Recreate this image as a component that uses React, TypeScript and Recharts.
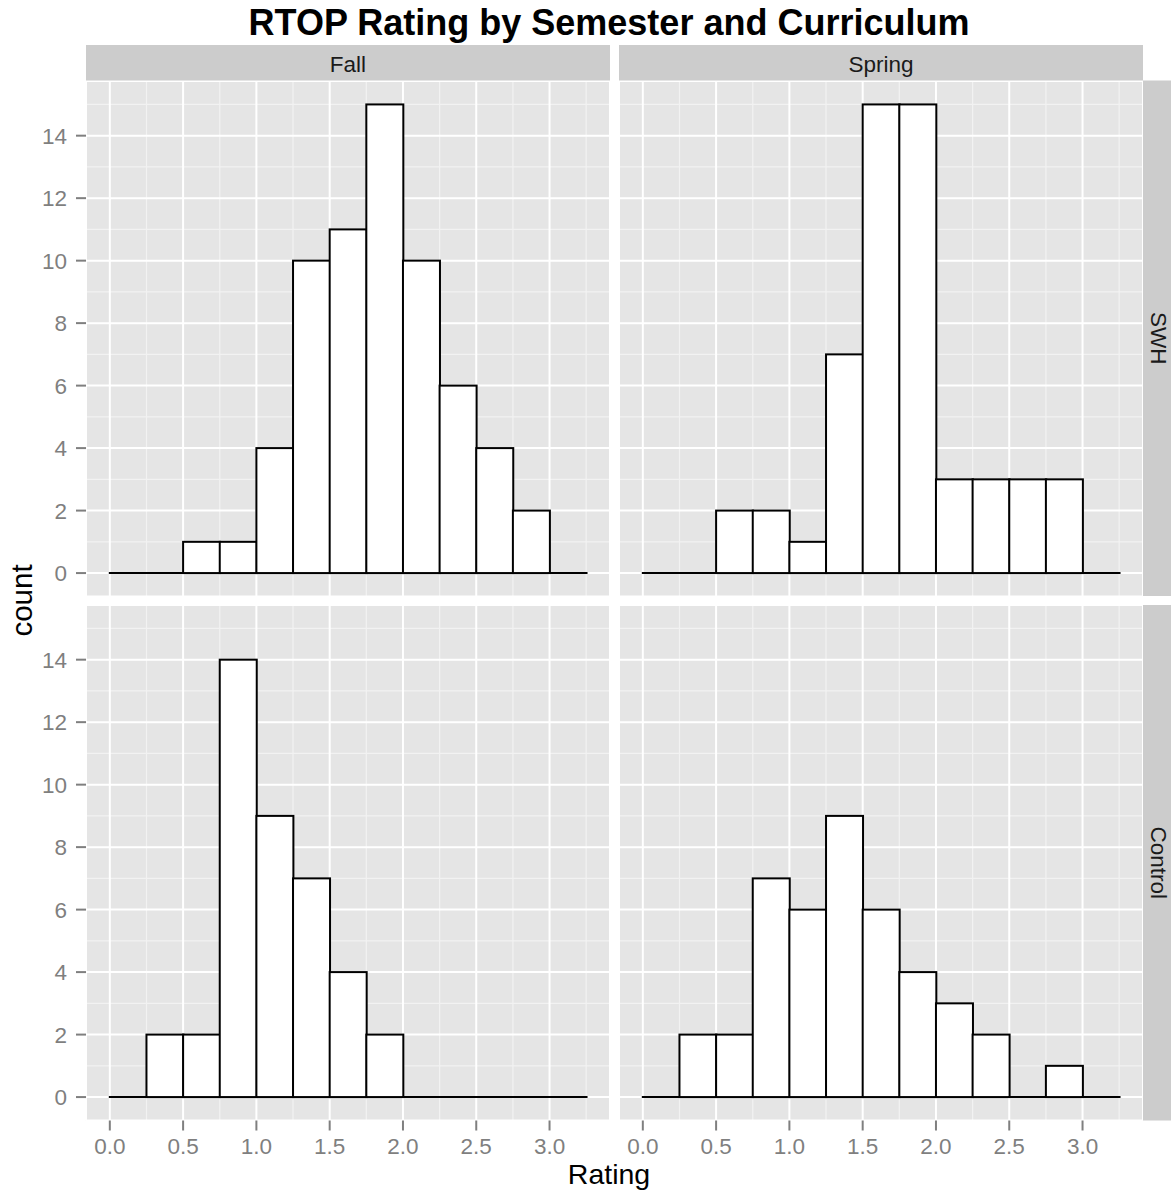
import React from 'react';
import { ComposedChart, Bar, XAxis, YAxis, CartesianGrid } from 'recharts';

// ---- data ----
const binLabels = ['0.00-0.25', '0.25-0.50', '0.50-0.75', '0.75-1.00', '1.00-1.25', '1.25-1.50', '1.50-1.75', '1.75-2.00', '2.00-2.25', '2.25-2.50', '2.50-2.75', '2.75-3.00', '3.00-3.25'];
const binMids = [0.125, 0.375, 0.625, 0.875, 1.125, 1.375, 1.625, 1.875, 2.125, 2.375, 2.625, 2.875, 3.125];
const fallSWH = [0, 0, 1, 1, 4, 10, 11, 15, 10, 6, 4, 2, 0];
const springSWH = [0, 0, 2, 2, 1, 7, 15, 15, 3, 3, 3, 3, 0];
const fallControl = [0, 2, 2, 14, 9, 7, 4, 2, 0, 0, 0, 0, 0];
const springControl = [0, 2, 2, 7, 6, 9, 6, 4, 3, 2, 0, 1, 0];
const xMajorTicks = [0, 0.5, 1, 1.5, 2, 2.5, 3];
const xMinorTicks = [0.25, 0.75, 1.25, 1.75, 2.25, 2.75, 3.25];
const yMajorTicks = [0, 2, 4, 6, 8, 10, 12, 14];
const yMinorTicks = [1, 3, 5, 7, 9, 11, 13, 15];
const columns = ['Fall', 'Spring'];
const rows = ['SWH', 'Control'];
const title = 'RTOP Rating by Semester and Curriculum';
const xTitle = 'Rating';
const yTitle = 'count';

// ---- layout ----
const X_MIN = 0;
const X_MAX = 3.25;
const X_EXP = (X_MAX - X_MIN) * 0.05;
const X_DOMAIN: [number, number] = [X_MIN - X_EXP, X_MAX + X_EXP];
const Y_DOMAIN: [number, number] = [-0.75, 15.75];
const PW = 524;
const PH = 515.5;
const PAD = (X_EXP / (X_DOMAIN[1] - X_DOMAIN[0])) * PW;
const COL_X = [86, 619];
const ROW_Y = [80.5, 605];
const Y_AXIS_W = 86;
const X_AXIS_H = 50;
const FONT = '"Liberation Sans", Arial, Helvetica, sans-serif';
const TICK_COLOR = '#7F7F7F';

const HistShape = (p: any) => {
  const { x, y, width, height } = p;
  if (!height) {
    return <line x1={x} x2={x + width} y1={y} y2={y} stroke="#000" strokeWidth={2} strokeLinecap="square" />;
  }
  return <rect x={x} y={y} width={width} height={height} fill="#FFFFFF" stroke="#000" strokeWidth={2} />;
};

type PanelProps = { values: number[]; left: number; top: number; showX: boolean; showY: boolean };

function Panel({ values, left, top, showX, showY }: PanelProps) {
  const data = binLabels.map((b, i) => ({ bin: b, mid: binMids[i], count: values[i] }));
  const yw = showY ? Y_AXIS_W : 0;
  const xh = showX ? X_AXIS_H : 0;
  return (
    <div style={{ position: 'absolute', left: left - yw, top }}>
      <ComposedChart
        width={PW + yw}
        height={PH + xh}
        data={data}
        margin={{ top: 0, right: 0, bottom: 0, left: 0 }}
        barCategoryGap={0}
        barGap={0}
      >
        <XAxis
          xAxisId="major"
          dataKey="mid"
          type="number"
          domain={X_DOMAIN}
          ticks={xMajorTicks}
          allowDataOverflow
          hide={!showX}
          height={showX ? X_AXIS_H : 0}
          interval={0}
          axisLine={false}
          tickSize={10}
          tickMargin={8}
          tickLine={{ stroke: TICK_COLOR, strokeWidth: 2 }}
          tick={{ fill: TICK_COLOR, fontSize: 22.5, fontFamily: FONT }}
          tickFormatter={(v: number) => v.toFixed(1)}
        />
        <XAxis xAxisId="cat" dataKey="bin" type="category" hide height={0} padding={{ left: PAD, right: PAD }} />
        <XAxis xAxisId="minor" dataKey="mid" type="number" domain={X_DOMAIN} ticks={xMinorTicks} allowDataOverflow hide height={0} interval={0} />
        <YAxis
          yAxisId="main"
          type="number"
          domain={Y_DOMAIN}
          ticks={yMajorTicks}
          allowDataOverflow
          hide={!showY}
          width={showY ? Y_AXIS_W : 0}
          interval={0}
          axisLine={false}
          tickSize={10}
          tickMargin={9}
          tickLine={{ stroke: TICK_COLOR, strokeWidth: 2 }}
          tick={{ fill: TICK_COLOR, fontSize: 22.5, fontFamily: FONT }}
        />
        <YAxis yAxisId="minor" type="number" domain={Y_DOMAIN} ticks={yMinorTicks} allowDataOverflow hide width={0} interval={0} />
        <CartesianGrid xAxisId="minor" yAxisId="minor" fill="#E5E5E5" fillOpacity={1} stroke="#F2F2F2" strokeWidth={1.2} />
        <CartesianGrid xAxisId="major" yAxisId="main" stroke="#FFFFFF" strokeWidth={2} />
        <Bar xAxisId="cat" yAxisId="main" dataKey="count" shape={HistShape} isAnimationActive={false} />
      </ComposedChart>
    </div>
  );
}

const panelData = [
  [fallSWH, springSWH],
  [fallControl, springControl],
];

export default function App() {
  const plotRight = COL_X[1] + PW;
  const centerX = 609;
  return (
    <div style={{ position: 'absolute', left: 0, top: 0, width: 1171, height: 1194, background: '#FFFFFF', fontFamily: FONT, overflow: 'hidden' }}>
      <svg width={1171} height={1194} style={{ position: 'absolute', left: 0, top: 0 }}>
        <text x={centerX} y={34.5} textAnchor="middle" fontSize={36} fontWeight="bold" fill="#000" fontFamily={FONT}>
          {title}
        </text>
        {columns.map((c, i) => (
          <g key={c}>
            <rect x={COL_X[i]} y={45} width={PW} height={ROW_Y[0] - 45} fill="#CCCCCC" />
            <text x={COL_X[i] + PW / 2} y={71.5} textAnchor="middle" fontSize={22.5} fill="#1A1A1A" fontFamily={FONT}>
              {c}
            </text>
          </g>
        ))}
        {rows.map((r, j) => (
          <g key={r}>
            <rect x={plotRight} y={ROW_Y[j]} width={40} height={PH} fill="#CCCCCC" />
            <text
              transform={`translate(${1150.5},${ROW_Y[j] + PH / 2}) rotate(90)`}
              textAnchor="middle"
              fontSize={22.5}
              fill="#1A1A1A"
              fontFamily={FONT}
            >
              {r}
            </text>
          </g>
        ))}
        <text x={centerX} y={1184} textAnchor="middle" fontSize={28.5} fill="#000" fontFamily={FONT}>
          {xTitle}
        </text>
        <text
          transform={`translate(32,${(ROW_Y[0] + ROW_Y[1] + PH) / 2}) rotate(-90)`}
          textAnchor="middle"
          fontSize={29.5}
          fill="#000"
          fontFamily={FONT}
        >
          {yTitle}
        </text>
      </svg>
      {panelData.map((row, j) =>
        row.map((vals, i) => (
          <Panel key={`${j}-${i}`} values={vals} left={COL_X[i]} top={ROW_Y[j]} showX={j === 1} showY={i === 0} />
        ))
      )}
    </div>
  );
}
